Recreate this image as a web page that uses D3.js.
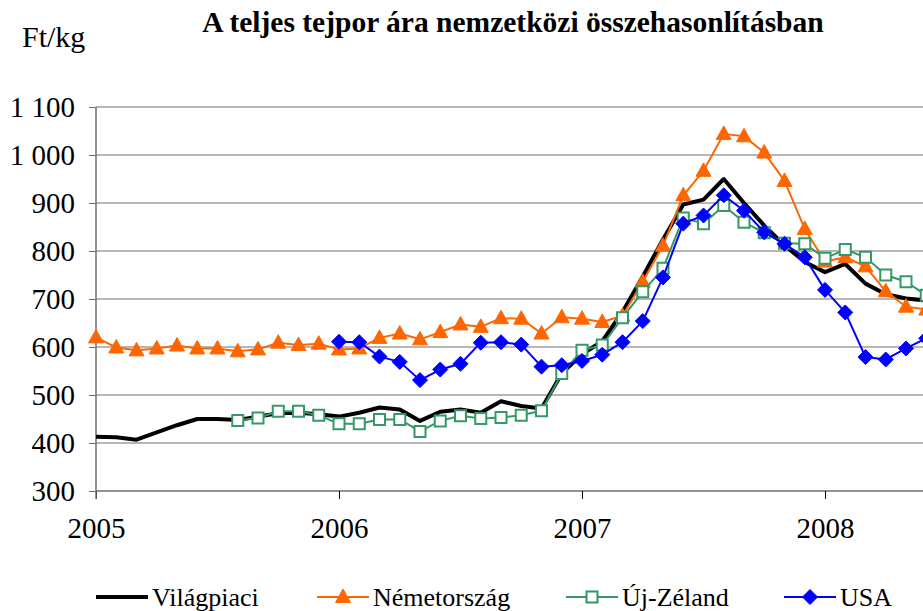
<!DOCTYPE html>
<html>
<head>
<meta charset="utf-8">
<script src="https://cdn.jsdelivr.net/npm/d3@7"></script>
<style>
  body { margin: 0; background: #fff; }
</style>
</head>
<body>
<div id="chart"></div>
<script>
// monthly data from 2005 jan, index 0
var years = ["2005", "2006", "2007", "2008"];
var yTicks = [300, 400, 500, 600, 700, 800, 900, 1000, 1100];

var vilagpiaci = [413, 412, 407, 422, 437, 450, 450, 448, 455, 462, 463, 460,
  455, 463, 474, 470, 446, 465, 470, 463, 487, 477, 472, 545,
  585, 612, 673, 747, 824, 897, 907, 950, 900, 853, 812, 777,
  756, 773, 732, 710, 701, 697];
var nemetorszag = [620, 599, 593, 597, 603, 597, 597, 591, 595, 609, 604, 607,
  595, 597, 619, 628, 616, 631, 647, 642, 660, 659, 628, 662,
  659, 652, 665, 736, 811, 916, 967, 1044, 1039, 1005, 946, 846,
  778, 787, 768, 716, 684, 678];
var ujZeland = [null, null, null, null, null, null, null, 447, 452, 466, 466, 458,
  440, 440, 449, 449, 424, 446, 457, 451, 453, 458, 467, 545,
  593, 604, 661, 715, 764, 869, 857, 895, 860, 838, 816, 815,
  785, 803, 787, 750, 736, 708];
var usa = [null, null, null, null, null, null, null, null, null, null, null, null,
  611, 610, 580, 569, 531, 553, 565, 609, 610, 605, 559, 562,
  571, 584, 610, 654, 745, 857, 874, 916, 884, 839, 815, 787,
  719, 672, 579, 574, 597, 618];

var series = [
  {name: "Világpiaci", values: vilagpiaci, color: "#000000", width: 4, marker: null},
  {name: "Németország", values: nemetorszag, color: "#FF6600", width: 2, marker: "triangle"},
  {name: "Új-Zéland", values: ujZeland, color: "#339966", width: 2, marker: "square"},
  {name: "USA", values: usa, color: "#0000FF", width: 2, marker: "diamond"}
];

var font = "'Liberation Serif', 'DejaVu Serif', serif";
var width = 923, height = 611;
var svg = d3.select("#chart").append("svg")
  .attr("width", width).attr("height", height);
svg.append("rect").attr("width", width).attr("height", height).attr("fill", "#fff");

var x = d3.scaleLinear().domain([0, 36]).range([96, 825]);
var y = d3.scaleLinear().domain([300, 1100]).range([491, 107]);
var xEnd = x(44);

// gridlines
svg.append("g").selectAll("line")
  .data(yTicks.slice(1))
  .enter().append("line")
  .attr("x1", x(0)).attr("x2", xEnd)
  .attr("y1", d => y(d)).attr("y2", d => y(d))
  .attr("stroke", "#6e6e6e").attr("stroke-width", 1.2);

// x axis
var xAxis = d3.axisBottom(x)
  .tickValues([0, 12, 24, 36])
  .tickFormat((d, i) => years[i])
  .tickSize(8).tickPadding(18);
var gx = svg.append("g").attr("transform", "translate(0," + y(300) + ")").call(xAxis)
  .attr("font-family", font).attr("font-size", 29);
gx.select(".domain").attr("d", "M" + x(0) + ",0H" + xEnd).attr("stroke", "#6e6e6e").attr("stroke-width", 1.5);
gx.selectAll(".tick line").attr("stroke", "#000");

// y axis
var yAxis = d3.axisLeft(y)
  .tickValues(yTicks)
  .tickFormat(d => d3.format(",")(d).replace(",", " "))
  .tickSize(7).tickPadding(14);
var gy = svg.append("g").attr("transform", "translate(" + x(0) + ",0)").call(yAxis)
  .attr("font-family", font).attr("font-size", 29);
gy.select(".domain").attr("d", "M0," + y(1100) + "V" + (y(300) + 8)).attr("stroke", "#6e6e6e").attr("stroke-width", 1.5);
gy.selectAll(".tick line").attr("stroke", "#6e6e6e");

// markers
function markerPath(type) {
  if (type === "triangle") return "M0,-8L7.5,5.5L-7.5,5.5Z";
  if (type === "square") return "M-5.5,-5.5H5.5V5.5H-5.5Z";
  if (type === "diamond") return "M0,-7.5L7.5,0L0,7.5L-7.5,0Z";
  return null;
}

var line = d3.line()
  .defined(d => d != null)
  .x((d, i) => x(i))
  .y(d => y(d));

series.forEach(function (s) {
  var g = svg.append("g");
  g.append("path")
    .attr("d", line(s.values))
    .attr("fill", "none")
    .attr("stroke", s.color)
    .attr("stroke-width", s.width)
    .attr("stroke-linejoin", "round");
  if (s.marker) {
    var pts = s.values.map((v, i) => ({v: v, i: i})).filter(d => d.v != null);
    g.selectAll("path.m")
      .data(pts)
      .enter().append("path")
      .attr("class", "m")
      .attr("d", markerPath(s.marker))
      .attr("transform", d => "translate(" + x(d.i) + "," + y(d.v) + ")")
      .attr("fill", s.marker === "square" ? "#fff" : s.color)
      .attr("stroke", s.color)
      .attr("stroke-width", s.marker === "square" ? 2 : 1);
  }
});

// title and unit
svg.append("text")
  .attr("x", 513).attr("y", 32)
  .attr("text-anchor", "middle")
  .attr("font-family", font).attr("font-size", 29.5).attr("font-weight", "bold")
  .text("A teljes tejpor ára nemzetközi összehasonlításban");

svg.append("text")
  .attr("x", 22).attr("y", 47)
  .attr("font-family", font).attr("font-size", 30)
  .text("Ft/kg");

// legend
var legendX = [96, 317, 566, 784];
var legend = svg.append("g").selectAll("g")
  .data(series)
  .enter().append("g")
  .attr("transform", (d, i) => "translate(" + legendX[i] + ",597)");
legend.append("line")
  .attr("x1", 0).attr("x2", 52)
  .attr("stroke", d => d.color)
  .attr("stroke-width", d => d.width);
legend.filter(d => d.marker).append("path")
  .attr("d", d => markerPath(d.marker))
  .attr("transform", "translate(26,0)")
  .attr("fill", d => d.marker === "square" ? "#fff" : d.color)
  .attr("stroke", d => d.color)
  .attr("stroke-width", d => d.marker === "square" ? 2 : 1);
legend.append("text")
  .attr("x", 56).attr("y", 9)
  .attr("font-family", font).attr("font-size", 26)
  .text(d => d.name);
</script>
</body>
</html>
